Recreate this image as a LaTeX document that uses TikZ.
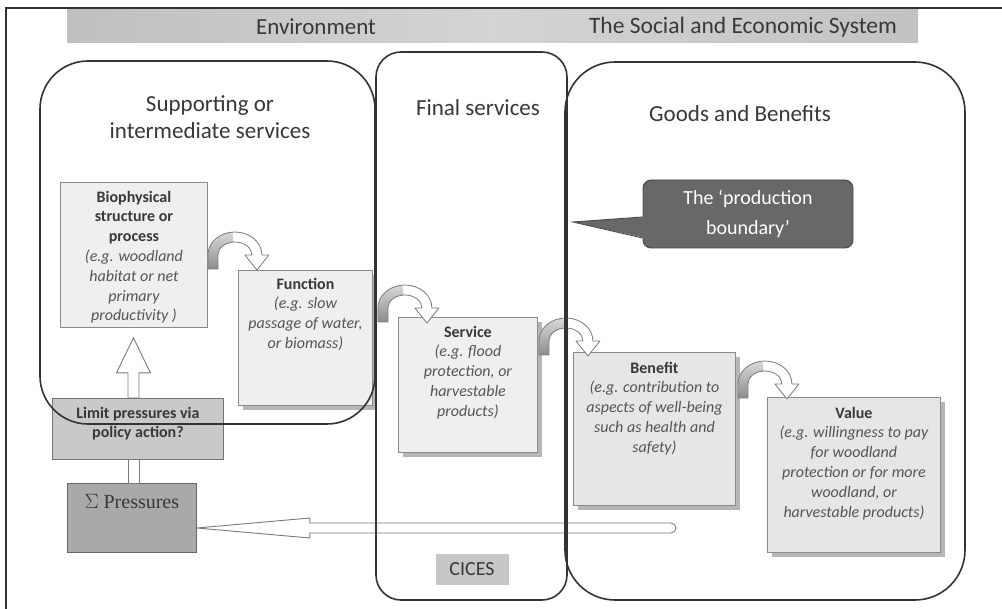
\documentclass[tikz,border=0pt]{standalone}
\usepackage{fontspec}
\setmainfont{Carlito}
\newfontfamily\sigfont{Liberation Serif}
\usetikzlibrary{shadows,calc}
\definecolor{lineC}{HTML}{333333}
\definecolor{boxB}{HTML}{8A8A8A}
\definecolor{boxF}{HTML}{EFEFEF}
\definecolor{boxG}{HTML}{E6E6E6}
\definecolor{limF}{HTML}{C9C9C9}
\definecolor{sigF}{HTML}{A9A9A9}
\definecolor{calF}{HTML}{686868}
\definecolor{calD}{HTML}{484848}
\definecolor{txt}{HTML}{383838}
\definecolor{itc}{HTML}{555555}
\definecolor{shd}{HTML}{B6B6B6}
\definecolor{arrC}{HTML}{7A7A7A}
\newcommand\bxt[4]{\parbox[t][#2][t]{#1}{\centering\fontsize{16}{19.8}\selectfont\vspace*{#3}#4}}
\newcommand\btx[1]{{\bfseries\color{txt}#1}}
\newcommand\itx[1]{{\itshape\color{itc}#1}}
\begin{document}
\begin{tikzpicture}[x=1pt,y=1pt,
  hdr/.style={font=\fontsize{23}{27}\selectfont, text=txt, inner sep=0pt, align=center},
  box/.style={draw=boxB, line width=0.9, fill=boxF, inner sep=0pt, anchor=north west},
  shadowed/.style={drop shadow={shadow xshift=5pt,shadow yshift=-5pt,fill=shd,opacity=1}},
  frame/.style={draw=lineC, line width=1.6},
  hollow/.style={draw=arrC, line width=0.9, fill=white},
  curvarr/.pic={
    \fill[white] (0,0) -- (0,14) arc[start angle=180,end angle=0,x radius=27,y radius=23] -- (61,14) -- (49,-1) -- (37,14) -- (44,14) arc[start angle=0,end angle=180,x radius=17,y radius=13] -- (10,0) -- cycle;
    \shade[top color=black!15, bottom color=black!45] (0,0) -- (0,14) arc[start angle=180,end angle=95,x radius=27,y radius=23] -- (25.52,26.95) arc[start angle=95,end angle=180,x radius=17,y radius=13] -- (10,0) -- cycle;
    \draw[arrC, line width=0.8, line join=round] (0,0) -- (0,14) arc[start angle=180,end angle=0,x radius=27,y radius=23] -- (61,14) -- (49,-1) -- (37,14) -- (44,14) arc[start angle=0,end angle=180,x radius=17,y radius=13] -- (10,0) -- cycle;
  }]
\useasboundingbox (0,0) rectangle (1002,-609);
\fill[white] (0,0) rectangle (1002,-609);
\draw[lineC, line width=1.4] (6,-609) -- (6,-8) -- (1002,-8);
% header bar
\shade[left color=black!25, right color=black!24, middle color=black!17] (67,-9.5) rectangle (918,-43);
\node[hdr] (env) at (316,-27) {Environment};
\node[hdr,font=\fontsize{23.5}{27}\selectfont] (ses) at (743,-27) {The Social and Economic System};
% section titles
\node[hdr] (sup) at (210,-117) {Supporting or\\intermediate services};
\node[hdr] (fin) at (478,-108) {Final services};
\node[hdr] (gob) at (740,-114) {Goods and Benefits};
% boxes
\node[box] (bio) at (60,-182) {\bxt{147pt}{145pt}{8.5pt}{\btx{Biophysical\\structure or\\process}\\\itx{(e.g. woodland\\habitat or net\\primary\\productivity )}}};
\node[box,shadowed] (fun) at (238,-270) {\bxt{134pt}{135pt}{7.5pt}{\btx{Function}\\\itx{(e.g. slow\\passage of water,\\or biomass)}}};
\node[box,shadowed] (serv) at (398,-317) {\bxt{139pt}{135pt}{8.5pt}{\btx{Service}\\\itx{(e.g. flood\\protection, or\\harvestable\\products)}}};
\node[box,shadowed,fill=boxG] (ben) at (573,-352) {\bxt{162pt}{153pt}{9.5pt}{\btx{Benefit}\\\itx{(e.g. contribution to\\aspects of well-being\\such as health and\\safety)}}};
\node[box,shadowed,fill=boxG] (val) at (767,-397) {\bxt{173pt}{155pt}{9.5pt}{\btx{Value}\\\itx{(e.g. willingness  to pay\\for woodland\\protection or for more\\woodland, or\\harvestable products)}}};
\node[box,fill=limF,draw=black!55] (lim) at (52,-398) {\bxt{171pt}{61pt}{8.5pt}{\btx{Limit pressures via\\policy action?}}};
\node[box,fill=sigF,draw=black!60] (sig) at (67,-483) {\parbox[t][69pt][t]{129pt}{\centering\sigfont\fontsize{20}{24}\selectfont\vspace*{11pt}\color{txt}$\Sigma$ Pressures}};
\node[fill=black!22, minimum width=73pt, minimum height=31pt, inner sep=0pt, font=\fontsize{20}{24}\selectfont, text=txt] (cic) at (472,-569) {CICES};
% callout
\node[fill=calF, draw=calD, line width=0.9, rounded corners=8pt, minimum width=210pt, minimum height=68pt, inner sep=0pt, align=center, text=white, font=\fontsize{20}{30}\selectfont] (pb) at (748,-214) {The ‘production\\boundary’};
\coordinate (ptip) at (573,-222);
\fill[calF] (ptip) -- ($(pb.west)+(3,-3)$) -- ($(pb.west)+(3,-24)$) -- cycle;
\draw[calD, line width=0.9] ($(pb.west)+(0,-3)$) -- (ptip) -- ($(pb.west)+(0,-24)$);
% curved arrows
\pic at ($(bio.east |- fun.north)+(0,1)$) {curvarr};
\pic at ($(fun.east |- serv.north)+(5,-5)$) {curvarr};
\pic at ($(serv.east |- ben.north)+(1,-3)$) {curvarr};
\pic at ($(ben.east |- val.north)+(2,-1)$) {curvarr};
% up arrow and connector
\coordinate (ut) at ($(bio.south)+(-0.5,-10)$);
\draw[hollow] (ut) -- ($(ut)+(17,-35)$) -- ($(ut)+(5.5,-35)$) -- ($(ut |- lim.north)+(5.5,0)$) -- ($(ut |- lim.north)+(-5.5,0)$) -- ($(ut)+(-5.5,-35)$) -- ($(ut)+(-17,-35)$) -- cycle;
\draw[hollow] ($(ut |- lim.south)+(-5.5,0)$) rectangle ($(ut |- sig.north)+(5.5,0)$);
% long arrow to pressures
\coordinate (pend) at (675,-528);
\coordinate (tip) at (sig.east |- pend);
\draw[hollow] (tip) -- ($(tip)+(113,10)$) -- ($(tip)+(113,5)$) -- ($(pend)+(-4,5)$) arc[start angle=90,end angle=-90,radius=5] -- ($(tip)+(113,-5)$) -- ($(tip)+(113,-10)$) -- cycle;
% frames
\draw[frame, rounded corners=48pt] (40,-61) rectangle (375,-424);
\draw[frame, rounded corners=25pt] (376,-52) rectangle (567,-600);
\draw[frame, rounded corners=50pt] (565,-62) rectangle (965,-600);
\end{tikzpicture}
\end{document}
